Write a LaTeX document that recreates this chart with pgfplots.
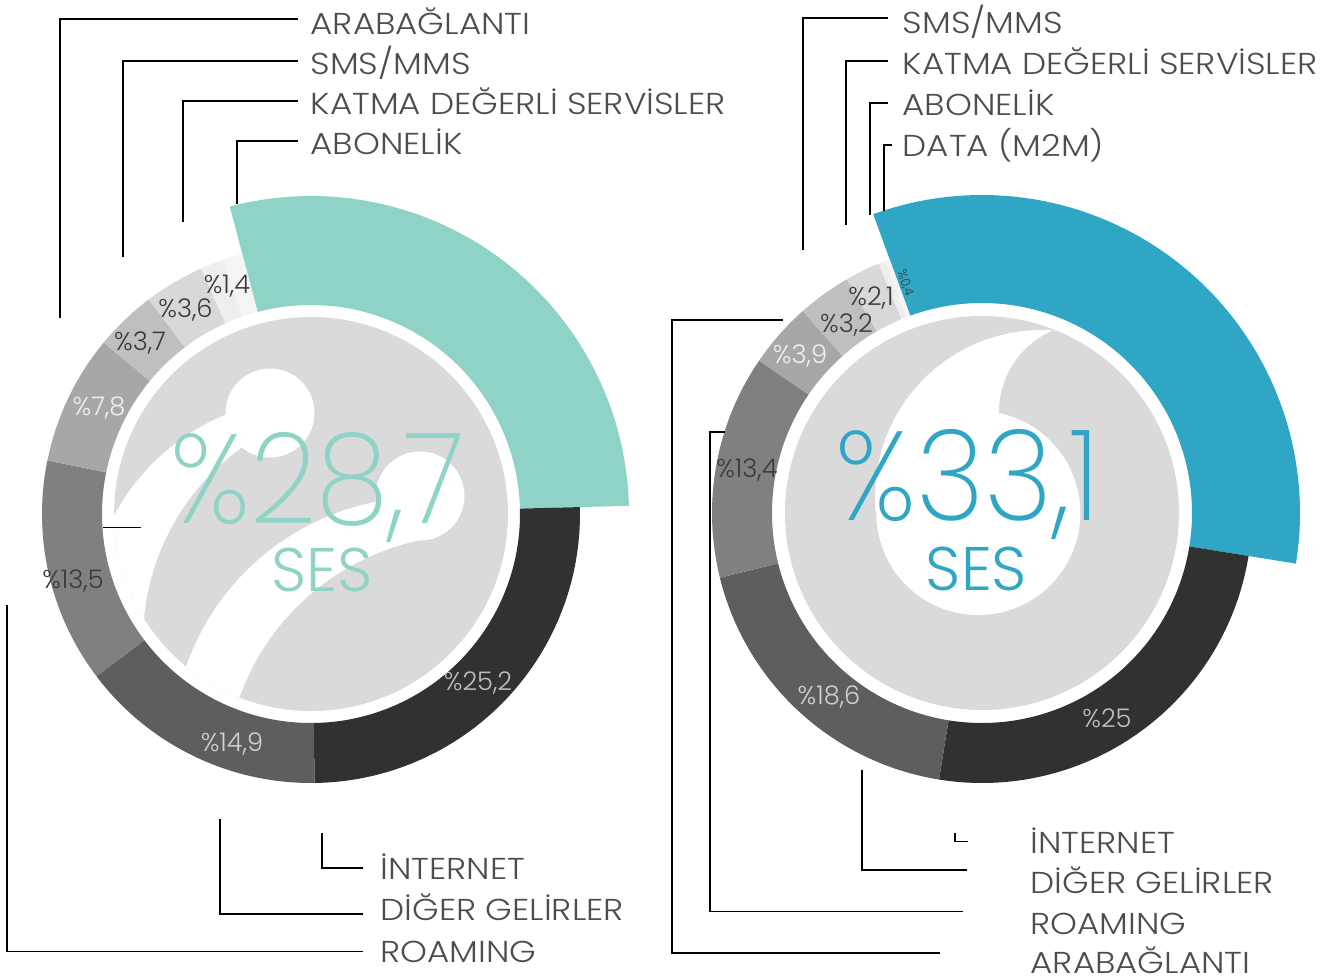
\documentclass[border=0pt]{standalone}
\usepackage{pgfplots}
\pgfplotsset{compat=1.18}
\usepackage{graphicx}
\usepackage{fontspec}
\IfFontExistsTF{Poppins Light}{\setmainfont{Poppins Light}\newfontfamily\labfont{Poppins Light}[FakeStretch=1.13]}{\setmainfont{Poppins}\newfontfamily\labfont{Poppins}[FakeStretch=1.13]}
\IfFontExistsTF{Poppins ExtraLight}{\newfontfamily\thinfont{Poppins ExtraLight}}{\newfontfamily\thinfont{Poppins}}

\definecolor{mint}{HTML}{8FD3C7}
\definecolor{sky}{HTML}{2EA6C4}
\definecolor{cA}{HTML}{313131}
\definecolor{cB}{HTML}{5E5E5F}
\definecolor{cC}{HTML}{808080}
\definecolor{cD}{HTML}{A7A7A7}
\definecolor{cE}{HTML}{BFBFBF}
\definecolor{cF}{HTML}{D8D8D8}
\definecolor{cG}{HTML}{EEEEEE}
\definecolor{cH}{HTML}{F4F4F4}
\definecolor{disc}{HTML}{DADADA}
\definecolor{lab}{HTML}{4D4D4D}
\definecolor{segdark}{HTML}{3A3A3A}

% annular segment: cx, cy, r_in, r_out, angle a, angle b, colour
\newcommand{\seg}[7]{%
\addplot[draw=none, fill=#7, domain=0:2.1, samples=211, variable=\s]
 ({#1+(\s<1 ? (#4) : (\s<1.1 ? (#4)-((#4)-(#3))*(\s-1)/0.1 : (#3)))*cos(\s<1 ? (#5)+((#6)-(#5))*\s : (\s<1.1 ? (#6) : (#6)-((#6)-(#5))*(\s-1.1)))},
  {#2-(\s<1 ? (#4) : (\s<1.1 ? (#4)-((#4)-(#3))*(\s-1)/0.1 : (#3)))*sin(\s<1 ? (#5)+((#6)-(#5))*\s : (\s<1.1 ? (#6) : (#6)-((#6)-(#5))*(\s-1.1)))});
}
% left chart: cumulative %, share %, colour, outer radius
\newcommand{\segL}[4]{\seg{311}{514}{209}{#4}{104.8-3.6*(#1)}{104.8-3.6*((#1)+(#2))}{#3}}
\newcommand{\segR}[4]{\seg{982}{513}{210}{#4}{110-3.6*(#1)}{110-3.6*((#1)+(#2))}{#3}}

\begin{document}
\begin{tikzpicture}
\begin{axis}[
  width=13.33cm, height=9.78cm, scale only axis,
  xmin=0, xmax=1333, ymin=0, ymax=978, y dir=reverse,
  hide axis, clip=false]

% ---------- left ring ----------
\segL{0}{28.7}{mint}{318}
\segL{28.7}{25.2}{cA}{269}
\segL{53.9}{14.9}{cB}{269}
\segL{68.8}{13.5}{cC}{269}
\segL{82.3}{7.8}{cD}{269}
\segL{90.1}{3.7}{cE}{269}
\segL{93.8}{3.6}{cF}{269}
\segL{97.4}{1.4}{cG}{269}
\segL{98.8}{1.2}{cH}{269}

% ---------- right ring ----------
\segR{0}{33.1}{sky}{318}
\segR{33.1}{25}{cA}{270}
\segR{58.1}{18.6}{cB}{270}
\segR{76.7}{13.4}{cC}{270}
\segR{90.1}{3.9}{cD}{270}
\segR{94.0}{3.2}{cE}{270}
\segR{97.2}{2.1}{cF}{270}
\segR{99.3}{0.4}{cG}{270}
\segR{99.7}{0.3}{cH}{270}

% ---------- inner discs and logos ----------
\fill[disc] (axis cs:311,514) circle[radius=1.97cm];
\begin{scope}
\clip (axis cs:311,514) circle[radius=1.97cm];
\fill[white] (axis cs:101.4,544.1) arc[start angle=160, end angle=110, radius=2.22cm]
  -- (axis cs:270,413) -- (axis cs:254.4,439) arc[start angle=122, end angle=182, radius=2.37cm] -- cycle;
\fill[white] (axis cs:177.5,697.4) arc[start angle=168, end angle=100, radius=2.53cm]
  -- (axis cs:420,496) -- (axis cs:419.1,540.4) arc[start angle=102, end angle=168, radius=2.45cm] -- cycle;
\fill[white] (axis cs:270,413) circle[radius=0.445cm];
\fill[white] (axis cs:420,496) circle[radius=0.445cm];
\end{scope}

\fill[disc] (axis cs:982,513) circle[radius=1.97cm];
\fill[white] (axis cs:978.3,513) circle[radius=1.02cm];
\fill[white] (axis cs:1058.3,330.8) arc[start angle=84.4, end angle=185, radius=1.67cm]
  -- (axis cs:978.3,513) -- (axis cs:999.3,419.8) arc[start angle=185, end angle=109.9, radius=0.89cm] -- cycle;

% ---------- leader lines ----------
\addplot[black, line width=0.4pt] coordinates {(298,19) (60,19) (60,318)};
\addplot[black, line width=0.4pt] coordinates {(298,61) (123,61) (123,257)};
\addplot[black, line width=0.4pt] coordinates {(298,101) (183,101) (183,222)};
\addplot[black, line width=0.4pt] coordinates {(298,141) (237,141) (237,204)};
\addplot[black, line width=0.4pt] coordinates {(103,527.7) (140.7,527.7)};
\addplot[black, line width=0.4pt] coordinates {(363,868) (322,868) (322,833)};
\addplot[black, line width=0.4pt] coordinates {(363,914) (220,914) (220,819)};
\addplot[black, line width=0.4pt] coordinates {(363,951.7) (7,951.7) (7,605)};

\addplot[black, line width=0.4pt] coordinates {(888,18) (803,18) (803,250)};
\addplot[black, line width=0.4pt] coordinates {(888,61) (846,61) (846,225)};
\addplot[black, line width=0.4pt] coordinates {(888,103) (870,103) (870,215)};
\addplot[black, line width=0.4pt] coordinates {(892,145) (884,145) (884,211)};
\addplot[black, line width=0.4pt] coordinates {(968,841.7) (955,841.7) (955,833)};
\addplot[black, line width=0.4pt] coordinates {(967,870) (862,870) (862,770)};
\addplot[black, line width=0.4pt] coordinates {(963,911.7) (710,911.7) (710,432) (725,432)};
\addplot[black, line width=0.4pt] coordinates {(940,953) (672,953) (672,320) (782.7,320)};

% ---------- category labels ----------
\tikzset{lbl/.style={anchor=base west, inner sep=0pt, text=lab, font=\labfont\fontsize{8.6}{10}\selectfont}}
\node[lbl] at (axis cs:310,35) {ARABAĞLANTI};
\node[lbl] at (axis cs:310,75) {SMS/MMS};
\node[lbl] at (axis cs:310,115) {KATMA DEĞERLİ SERVİSLER};
\node[lbl] at (axis cs:310,155) {ABONELİK};
\node[lbl] at (axis cs:380,879) {İNTERNET};
\node[lbl] at (axis cs:380,920) {DİĞER GELİRLER};
\node[lbl] at (axis cs:380,962) {ROAMING};

\node[lbl] at (axis cs:902,34) {SMS/MMS};
\node[lbl] at (axis cs:902,75) {KATMA DEĞERLİ SERVİSLER};
\node[lbl] at (axis cs:902,116) {ABONELİK};
\node[lbl] at (axis cs:902,157) {DATA (M2M)};
\node[lbl] at (axis cs:1030,853) {İNTERNET};
\node[lbl] at (axis cs:1030,893) {DİĞER GELİRLER};
\node[lbl] at (axis cs:1030,934) {ROAMING};
\node[lbl] at (axis cs:1030,973) {ARABAĞLANTI};

% ---------- segment values ----------
\tikzset{val/.style={anchor=base, inner sep=0pt, font=\fontsize{7.3}{8}\selectfont}}
\node[val, text=segdark] at (axis cs:227,293) {\%1,4};
\node[val, text=segdark] at (axis cs:185.5,317) {\%3,6};
\node[val, text=segdark] at (axis cs:140,350) {\%3,7};
\node[val, text=white!94!black] at (axis cs:99,415) {\%7,8};
\node[val, text=segdark] at (axis cs:73,588) {\%13,5};
\node[val, text=white!82!black] at (axis cs:232,751) {\%14,9};
\node[val, text=white!75!black] at (axis cs:478,690) {\%25,2};

\node[val, text=segdark] at (axis cs:871,305) {\%2,1};
\node[val, text=segdark] at (axis cs:846.5,332) {\%3,2};
\node[val, text=white!94!black] at (axis cs:800,363) {\%3,9};
\node[val, text=segdark] at (axis cs:747,477) {\%13,4};
\node[val, text=white!82!black] at (axis cs:829,704) {\%18,6};
\node[val, text=white!75!black] at (axis cs:1107,727) {\%25};
\node[inner sep=0pt, text=segdark, rotate=-72, font=\fontsize{3.6}{4}\selectfont] at (axis cs:905,283) {\%0,4};

% ---------- centre figures ----------
\node[anchor=base, inner sep=0pt, text=mint, font=\thinfont\fontsize{36}{40}\selectfont] at (axis cs:317.5,523) {\scalebox{0.92}[1]{\%28,7}};
\node[anchor=base, inner sep=0pt, text=mint, font=\fontsize{17.5}{20}\selectfont] at (axis cs:321.7,591) {SES};
\node[anchor=base, inner sep=0pt, text=sky, font=\thinfont\fontsize{36}{40}\selectfont] at (axis cs:968,520) {\scalebox{0.93}[1]{\%33,1}};
\node[anchor=base, inner sep=0pt, text=sky, font=\fontsize{17.5}{20}\selectfont] at (axis cs:976.5,590) {SES};
\end{axis}
\pgfresetboundingbox
\path[use as bounding box] (current axis.south west) rectangle (current axis.north east);
\end{tikzpicture}
\end{document}
